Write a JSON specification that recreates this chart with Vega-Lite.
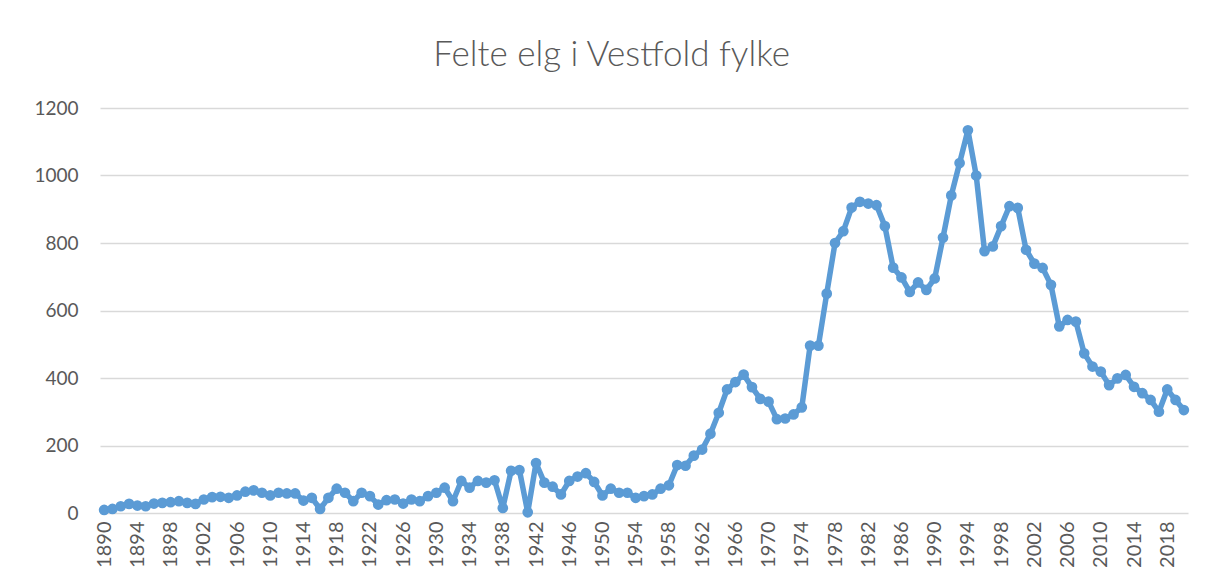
{
  "$schema": "https://vega.github.io/schema/vega-lite/v6.json",
  "width": 1088,
  "height": 405,
  "autosize": {"type": "none"},
  "padding": {"left": 100, "top": 108, "right": 17, "bottom": 75},
  "background": "white",
  "title": {"text": "Felte elg i Vestfold fylke", "fontSize": 35, "font": "Lato", "fontWeight": 300, "color": "#595959", "anchor": "middle", "frame": "bounds", "offset": 26},
  "config": {"view": {"stroke": null}},
  "data": {"values": [
    {"year": 1890, "count": 9}, {"year": 1891, "count": 12}, {"year": 1892, "count": 20}, {"year": 1893, "count": 27},
    {"year": 1894, "count": 22}, {"year": 1895, "count": 20}, {"year": 1896, "count": 28}, {"year": 1897, "count": 30},
    {"year": 1898, "count": 32}, {"year": 1899, "count": 35}, {"year": 1900, "count": 30}, {"year": 1901, "count": 27},
    {"year": 1902, "count": 40}, {"year": 1903, "count": 47}, {"year": 1904, "count": 48}, {"year": 1905, "count": 45},
    {"year": 1906, "count": 52}, {"year": 1907, "count": 63}, {"year": 1908, "count": 67}, {"year": 1909, "count": 60},
    {"year": 1910, "count": 52}, {"year": 1911, "count": 60}, {"year": 1912, "count": 58}, {"year": 1913, "count": 58},
    {"year": 1914, "count": 37}, {"year": 1915, "count": 45}, {"year": 1916, "count": 12}, {"year": 1917, "count": 45},
    {"year": 1918, "count": 72}, {"year": 1919, "count": 60}, {"year": 1920, "count": 35}, {"year": 1921, "count": 60},
    {"year": 1922, "count": 50}, {"year": 1923, "count": 25}, {"year": 1924, "count": 38}, {"year": 1925, "count": 40},
    {"year": 1926, "count": 28}, {"year": 1927, "count": 40}, {"year": 1928, "count": 35}, {"year": 1929, "count": 50},
    {"year": 1930, "count": 60}, {"year": 1931, "count": 75}, {"year": 1932, "count": 35}, {"year": 1933, "count": 95},
    {"year": 1934, "count": 75}, {"year": 1935, "count": 95}, {"year": 1936, "count": 90}, {"year": 1937, "count": 97},
    {"year": 1938, "count": 15}, {"year": 1939, "count": 125}, {"year": 1940, "count": 127}, {"year": 1941, "count": 2},
    {"year": 1942, "count": 148}, {"year": 1943, "count": 90}, {"year": 1944, "count": 78}, {"year": 1945, "count": 55},
    {"year": 1946, "count": 95}, {"year": 1947, "count": 108}, {"year": 1948, "count": 118}, {"year": 1949, "count": 92},
    {"year": 1950, "count": 52}, {"year": 1951, "count": 72}, {"year": 1952, "count": 60}, {"year": 1953, "count": 60},
    {"year": 1954, "count": 45}, {"year": 1955, "count": 50}, {"year": 1956, "count": 55}, {"year": 1957, "count": 72},
    {"year": 1958, "count": 82}, {"year": 1959, "count": 142}, {"year": 1960, "count": 140}, {"year": 1961, "count": 170},
    {"year": 1962, "count": 188}, {"year": 1963, "count": 235}, {"year": 1964, "count": 297}, {"year": 1965, "count": 366},
    {"year": 1966, "count": 388}, {"year": 1967, "count": 410}, {"year": 1968, "count": 373}, {"year": 1969, "count": 338},
    {"year": 1970, "count": 330}, {"year": 1971, "count": 278}, {"year": 1972, "count": 280}, {"year": 1973, "count": 292},
    {"year": 1974, "count": 313}, {"year": 1975, "count": 496}, {"year": 1976, "count": 496}, {"year": 1977, "count": 650},
    {"year": 1978, "count": 800}, {"year": 1979, "count": 835}, {"year": 1980, "count": 905}, {"year": 1981, "count": 922},
    {"year": 1982, "count": 917}, {"year": 1983, "count": 912}, {"year": 1984, "count": 850}, {"year": 1985, "count": 727},
    {"year": 1986, "count": 698}, {"year": 1987, "count": 655}, {"year": 1988, "count": 683}, {"year": 1989, "count": 661},
    {"year": 1990, "count": 695}, {"year": 1991, "count": 816}, {"year": 1992, "count": 941}, {"year": 1993, "count": 1037},
    {"year": 1994, "count": 1134}, {"year": 1995, "count": 1000}, {"year": 1996, "count": 776}, {"year": 1997, "count": 790},
    {"year": 1998, "count": 850}, {"year": 1999, "count": 909}, {"year": 2000, "count": 904}, {"year": 2001, "count": 780},
    {"year": 2002, "count": 739}, {"year": 2003, "count": 726}, {"year": 2004, "count": 676}, {"year": 2005, "count": 553},
    {"year": 2006, "count": 572}, {"year": 2007, "count": 567}, {"year": 2008, "count": 473}, {"year": 2009, "count": 434},
    {"year": 2010, "count": 419}, {"year": 2011, "count": 379}, {"year": 2012, "count": 399}, {"year": 2013, "count": 409},
    {"year": 2014, "count": 374}, {"year": 2015, "count": 355}, {"year": 2016, "count": 335}, {"year": 2017, "count": 300},
    {"year": 2018, "count": 366}, {"year": 2019, "count": 335}, {"year": 2020, "count": 305}
  ]},
  "mark": {
    "type": "line",
    "color": "#5B9BD5",
    "strokeWidth": 5.5,
    "strokeJoin": "round",
    "point": {"filled": true, "size": 115, "color": "#5B9BD5", "opacity": 1}
  },
  "encoding": {
    "x": {
      "field": "year",
      "type": "quantitative",
      "scale": {"domain": [1889.5, 2020.5], "nice": false, "zero": false},
      "axis": {
        "values": [1890, 1894, 1898, 1902, 1906, 1910, 1914, 1918, 1922, 1926, 1930, 1934, 1938, 1942, 1946, 1950, 1954, 1958, 1962, 1966, 1970, 1974, 1978, 1982, 1986, 1990, 1994, 1998, 2002, 2006, 2010, 2014, 2018],
        "format": "d",
        "labelAngle": -90,
        "grid": false,
        "domain": false,
        "ticks": false,
        "labelFont": "Lato",
        "labelFontSize": 20,
        "labelColor": "#595959",
        "labelPadding": 8,
        "labelOverlap": false,
        "title": null
      }
    },
    "y": {
      "field": "count",
      "type": "quantitative",
      "scale": {"domain": [0, 1200], "nice": false},
      "axis": {
        "values": [0, 200, 400, 600, 800, 1000, 1200],
        "format": "d",
        "grid": true,
        "gridColor": "#D9D9D9",
        "gridWidth": 1.5,
        "domain": false,
        "ticks": false,
        "labelFont": "Lato",
        "labelFontSize": 19,
        "labelColor": "#595959",
        "labelPadding": 22,
        "title": null
      }
    }
  }
}
